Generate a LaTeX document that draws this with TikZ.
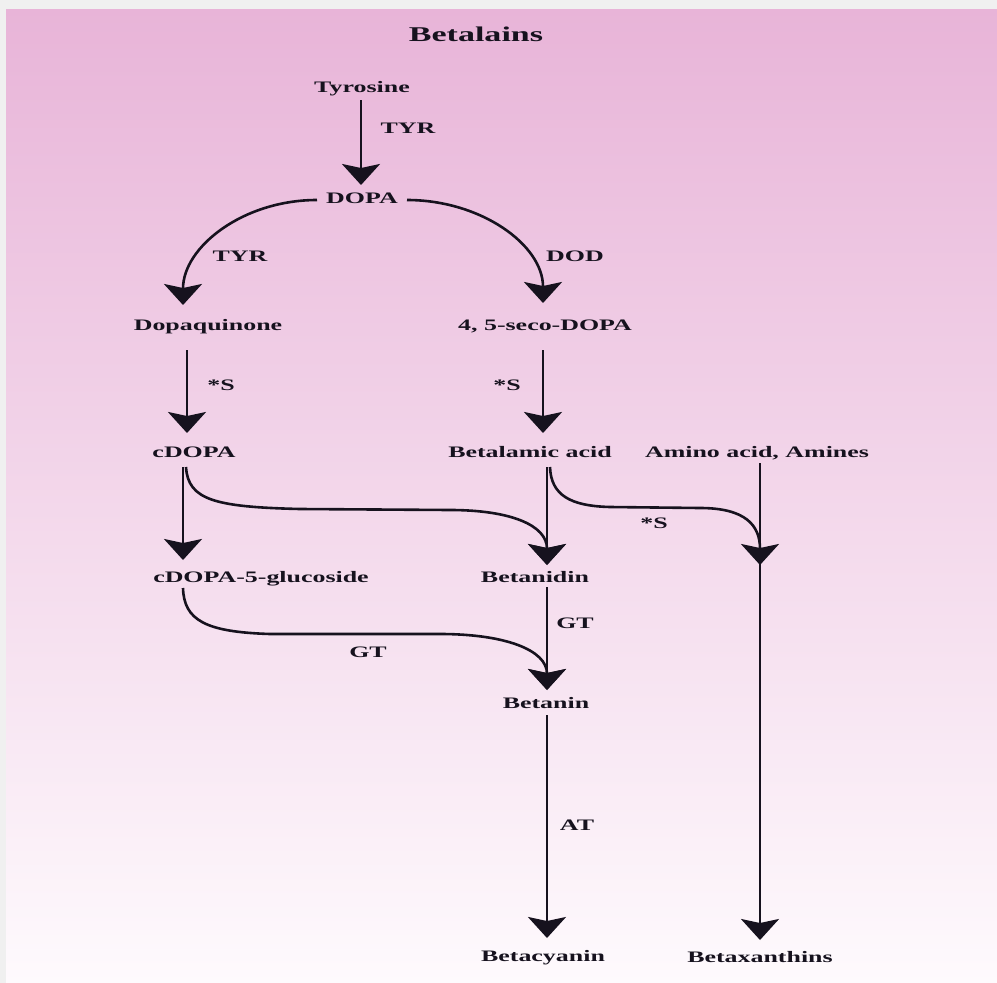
\documentclass[tikz,border=0pt]{standalone}
\usepackage{fontspec}
\setmainfont{Liberation Serif}
\newfontfamily\lblfont[FakeStretch=1.62]{Liberation Serif}
\usetikzlibrary{arrows.meta,calc}
\definecolor{pinktop}{RGB}{232,180,216}
\definecolor{pinkbot}{RGB}{254,250,253}
\definecolor{framegrey}{RGB}{240,240,240}
\definecolor{ink}{RGB}{22,18,30}
\begin{document}
\begin{tikzpicture}[x=1pt,y=-1pt,
  lbl/.style={font=\lblfont\bfseries\fontsize{16}{18}\selectfont, text=ink,
    inner sep=0pt, outer sep=0pt, text height=10.6pt, text depth=0pt},
  ttl/.style={lbl, font=\lblfont\bfseries\fontsize{21}{24}\selectfont, text height=13.9pt},
  arr/.style={draw=ink, line width=2.6pt, -{Stealth[length=21pt,width=38pt,inset=4pt]}}]
\useasboundingbox (0,0) rectangle (997,983);
\fill[framegrey] (0,0) rectangle (997,983);
\shade[top color=pinktop, bottom color=pinkbot] (6,9) rectangle (997,983);

% nodes
\node[ttl] (title) at (476,35) {Betalains};
\node[lbl] (tyr) at (362,87) {Tyrosine};
\node[lbl] (e1) at (408,128) {TYR};
\node[lbl] (dopa) at (362,198) {DOPA};
\node[lbl] (e2) at (240,256) {TYR};
\node[lbl] (e3) at (575,256) {DOD};
\node[lbl] (dq) at (208,325) {Dopaquinone};
\node[lbl] (seco) at (545,325) {4, 5-seco-DOPA};
\node[lbl] (e4) at (221,385) {*S};
\node[lbl] (e5) at (507,385) {*S};
\node[lbl] (cdopa) at (194,452) {cDOPA};
\node[lbl] (ba) at (530,452) {Betalamic acid};
\node[lbl] (aa) at (757,452) {Amino acid, Amines};
\node[lbl] (e6) at (654,523) {*S};
\node[lbl] (glu) at (261,577) {cDOPA-5-glucoside};
\node[lbl] (bnd) at (535,577) {Betanidin};
\node[lbl] (e7) at (575,623) {GT};
\node[lbl] (e8) at (368,652) {GT};
\node[lbl] (bnn) at (546,703) {Betanin};
\node[lbl] (e9) at (577,825) {AT};
\node[lbl] (bcy) at (543,956) {Betacyanin};
\node[lbl] (bxa) at (760,957) {Betaxanthins};

% connectors
\draw[arr] ($(tyr)+(-1,13)$) -- ($(dopa)+(-1,-13)$);
\draw[arr] ($(dopa)+(-45,2)$) .. controls +(-74,0) and +(0,-58) .. ($(dq)+(-25,-20)$);
\draw[arr] ($(dopa)+(45,2)$) .. controls +(74,0) and +(0,-58) .. ($(seco)+(-2,-22)$);
\draw[arr] ($(dq)+(-21,25)$) -- ($(cdopa)+(-7,-19)$);
\draw[arr] ($(seco)+(-2,25)$) -- ($(ba)+(13,-19)$);
\draw[arr] ($(cdopa)+(-11,15)$) -- ($(glu)+(-78,-17)$);
\draw[arr] ($(cdopa)+(-8,15)$) .. controls +(2,33) and +(-85,-2) .. ($(cdopa)+(106,57)$)
  -- ($(bnd)+(-85,-67)$) .. controls +(60,0) and +(0,-40) .. ($(bnd)+(12,-12)$);
\draw[arr] ($(ba)+(17,15)$) -- ($(bnd)+(12,-12)$);
\draw[arr] ($(ba)+(20,15)$) .. controls +(1,28) and +(-40,-1) .. ($(ba)+(80,55)$)
  -- ($(aa)+(-57,56)$) .. controls +(45,0) and +(0,-40) .. ($(aa)+(3,113)$);
\draw[arr] ($(aa)+(3,11)$) -- ($(bxa)+(0,-17)$);
\draw[arr] ($(glu)+(-78,11)$) .. controls +(1,32) and +(-65,-2) .. ($(glu)+(9,57)$)
  -- ($(bnn)+(-106,-69)$) .. controls +(65,0) and +(0,-40) .. ($(bnn)+(1,-13)$);
\draw[arr] ($(bnd)+(12,10)$) -- ($(bnn)+(1,-13)$);
\draw[arr] ($(bnn)+(1,12)$) -- ($(bcy)+(4,-18)$);
\end{tikzpicture}
\end{document}
